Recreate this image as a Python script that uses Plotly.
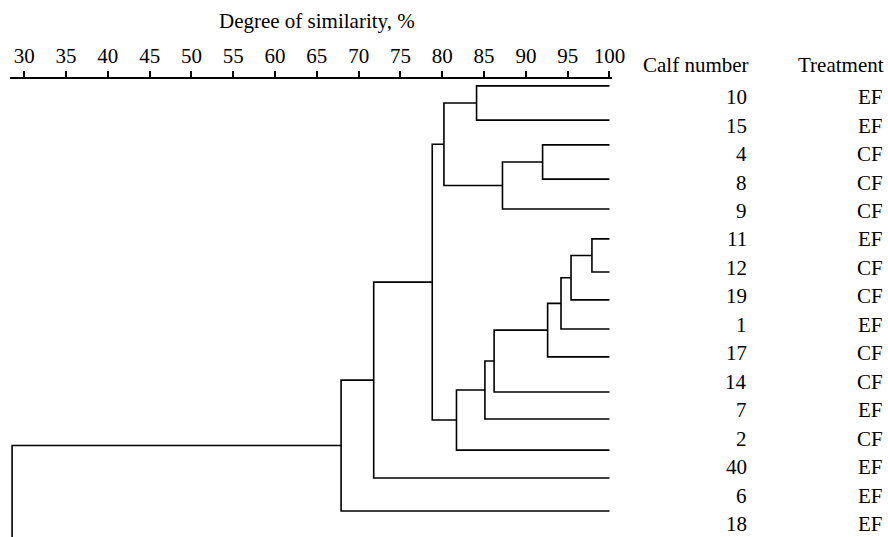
import plotly.graph_objects as go

# ---- data ----
calf_number = ["10", "15", "4", "8", "9", "11", "12", "19", "1", "17", "14", "7", "2", "40", "6", "18"]
treatment = ["EF", "EF", "CF", "CF", "CF", "EF", "CF", "CF", "EF", "CF", "CF", "EF", "CF", "EF", "EF", "EF"]
# leaf line vertical position (in label-row units, as drawn in the figure)
leaf_row = [-0.39, 0.81, 1.68, 2.88, 3.93, 4.98, 6.14, 7.12, 8.14, 9.12, 10.35, 11.30, 12.39, 13.37, 14.53, 15.7]

# merges: child A, child B, degree of similarity (%)
merge_a = ["10", "4", "m1", "m0", "11", "m4", "m5", "m6", "m7", "m8", "m9", "m3", "m11", "m12", "m13"]
merge_b = ["15", "8", "9", "m2", "12", "19", "1", "17", "14", "7", "2", "m10", "40", "6", "18"]
merge_sim = [84.1, 92.0, 87.2, 80.2, 97.9, 95.4, 94.2, 92.6, 86.2, 85.1, 81.7, 78.8, 71.8, 67.9, 28.55]

tick_vals = [30, 35, 40, 45, 50, 55, 60, 65, 70, 75, 80, 85, 90, 95, 100]

FONT = "Liberation Serif"
FS = 21

# ---- build dendrogram segments ----
pos = {}
for name, r in zip(calf_number, leaf_row):
    pos[name] = (100.0, r)

xs, ys = [], []
for i, (a, b, s) in enumerate(zip(merge_a, merge_b, merge_sim)):
    xa, ya = pos[a]
    xb, yb = pos[b]
    xs += [xa, s, s, xb, None]
    ys += [ya, ya, yb, yb, None]
    pos["m%d" % i] = (s, (ya + yb) / 2)

fig = go.Figure()
fig.add_trace(go.Scatter(x=xs, y=ys, mode="lines",
                         line=dict(color="black", width=1.6),
                         hoverinfo="skip", showlegend=False))

annotations = []
for k, (c, t) in enumerate(zip(calf_number, treatment)):
    annotations.append(dict(x=1, xref="paper", xshift=137, xanchor="right",
                            y=k, yref="y", yanchor="middle", text=c, showarrow=False,
                            font=dict(family=FONT, size=FS, color="black")))
    annotations.append(dict(x=1, xref="paper", xshift=273, xanchor="right",
                            y=k, yref="y", yanchor="middle", text=t, showarrow=False,
                            font=dict(family=FONT, size=FS, color="black")))

annotations.append(dict(x=1, xref="paper", xshift=139, xanchor="right",
                        y=1, yref="paper", yshift=14, yanchor="middle",
                        text="Calf number", showarrow=False,
                        font=dict(family=FONT, size=FS, color="black")))
annotations.append(dict(x=1, xref="paper", xshift=274, xanchor="right",
                        y=1, yref="paper", yshift=14, yanchor="middle",
                        text="Treatment", showarrow=False,
                        font=dict(family=FONT, size=FS, color="black")))
annotations.append(dict(x=0.5, xref="paper", xshift=6, xanchor="center",
                        y=1, yref="paper", yshift=58, yanchor="middle",
                        text="Degree of similarity, %", showarrow=False,
                        font=dict(family=FONT, size=FS, color="black")))

fig.update_layout(
    width=888, height=537,
    margin=dict(l=10, r=276, t=79, b=0),
    paper_bgcolor="white", plot_bgcolor="white",
    annotations=annotations,
    xaxis=dict(range=[28.3, 100.3], side="top", tickvals=tick_vals,
               ticks="outside", ticklen=6, tickwidth=1.5, tickcolor="black",
               showline=True, linecolor="black", linewidth=1.5,
               showgrid=False, zeroline=False,
               tickfont=dict(family=FONT, size=FS, color="black")),
    yaxis=dict(range=[15.44, -0.632], visible=False, showgrid=False, zeroline=False),
)

fig.write_html("out.html")
